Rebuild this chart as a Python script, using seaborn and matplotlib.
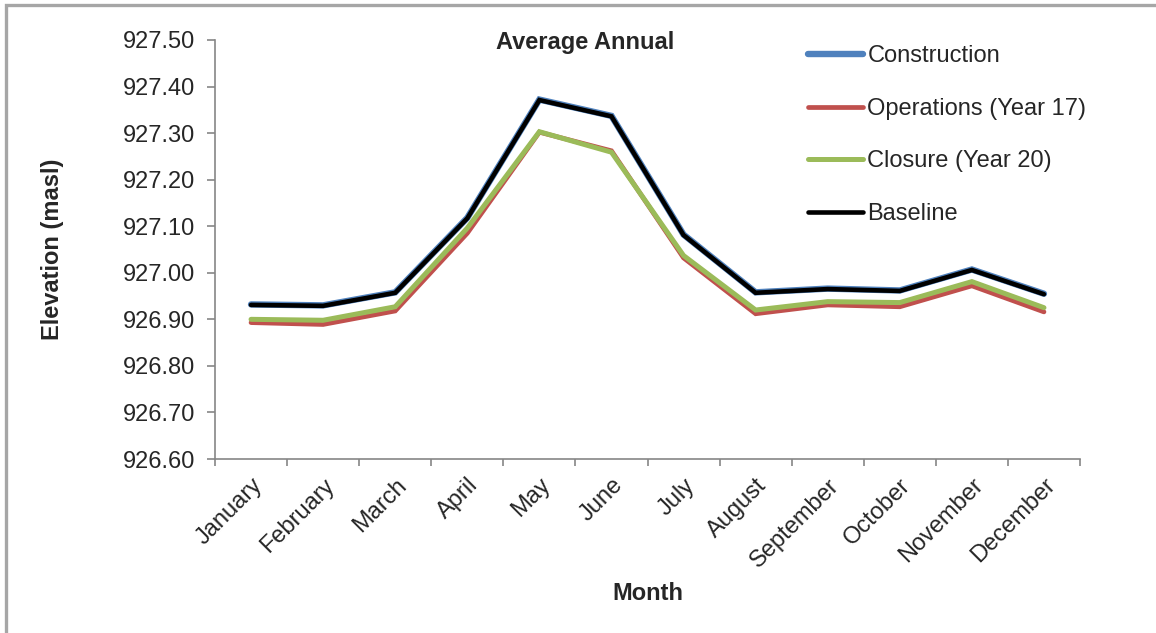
import numpy as np
import pandas as pd
import seaborn as sns
import matplotlib.pyplot as plt
from matplotlib import ticker
from matplotlib.patches import Rectangle

months = ['January', 'February', 'March', 'April', 'May', 'June', 'July',
          'August', 'September', 'October', 'November', 'December']
construction = [926.932, 926.930, 926.958, 927.118, 927.372, 927.337,
                927.082, 926.958, 926.966, 926.962, 927.007, 926.955]
operations = [926.893, 926.889, 926.918, 927.085, 927.302, 927.262,
              927.032, 926.912, 926.931, 926.927, 926.972, 926.916]
closure = [926.900, 926.898, 926.927, 927.096, 927.303, 927.259,
           927.037, 926.920, 926.938, 926.936, 926.981, 926.925]
baseline = [926.931, 926.929, 926.957, 927.117, 927.371, 927.336,
            927.081, 926.957, 926.965, 926.961, 927.006, 926.954]

series = ['Construction', 'Operations (Year 17)', 'Closure (Year 20)', 'Baseline']
colors = ['#4f81bd', '#c0504d', '#9bbb59', '#000000']
widths = [4.6, 3.4, 3.6, 3.3]

df = pd.DataFrame({'month': months * 4,
                   'elev': construction + operations + closure + baseline,
                   'series': np.repeat(series, len(months))})
df['x'] = np.tile(np.arange(len(months)), 4)

sns.set_style('white')
plt.rcParams['font.family'] = ['Liberation Sans', 'DejaVu Sans']
fs = 17

fig = plt.figure(figsize=(11.56, 6.33), dpi=100)
ax = fig.add_axes([215 / 1156, 1 - 459 / 633, 865 / 1156, 419 / 633])
sns.lineplot(data=df, x='x', y='elev', hue='series', hue_order=series,
             palette=colors, sort=False, ax=ax, legend=False)
for line, lw in zip(ax.lines, widths):
    line.set_linewidth(lw)
    line.set_solid_joinstyle('miter')

ax.set_xlim(-0.5, 11.5)
ax.set_ylim(926.60, 927.50)
ax.yaxis.set_major_locator(ticker.MultipleLocator(0.1))
ax.yaxis.set_major_formatter(ticker.FormatStrFormatter('%.2f'))
ax.set_xticks(range(len(months)))
ax.set_xticklabels(months, rotation=45, ha='right', rotation_mode='anchor')
ax.xaxis.set_minor_locator(ticker.FixedLocator(np.arange(-0.5, 12, 1)))
ax.tick_params(axis='x', which='major', length=0, pad=11, labelsize=fs)
ax.tick_params(axis='x', which='minor', length=5, width=1.2, color='#868686', direction='out', bottom=True)
ax.tick_params(axis='y', length=6, width=1.2, color='#868686', direction='out', left=True, labelsize=fs, pad=8)
for side in ['top', 'right']:
    ax.spines[side].set_visible(False)
for side in ['left', 'bottom']:
    ax.spines[side].set_color('#868686')
    ax.spines[side].set_linewidth(1.2)

ax.set_xlabel('Month', fontsize=fs, fontweight='bold')
ax.xaxis.set_label_coords(0.5, -0.294)
ax.set_ylabel('Elevation (masl)', fontsize=fs, fontweight='bold')
ax.yaxis.set_label_coords(-0.175, 0.5)

fig.text(0.506, 1 - 42 / 633, 'Average Annual', ha='center', va='center',
         fontsize=fs, fontweight='bold')

fig.legend(ax.lines, series, loc='upper left', bbox_to_anchor=(799 / 1156, 1 - 36 / 633),
           frameon=False, fontsize=fs, handlelength=2.3, handletextpad=0.2,
           labelspacing=1.29, borderaxespad=0)

fig.patches.append(Rectangle((6 / 1156, -0.1), 1.2, 0.1 + 1 - 5 / 633, fill=False,
                             edgecolor='#a6a6a6', linewidth=2.4,
                             transform=fig.transFigure, clip_on=False))

fig.savefig('out.png', dpi=100)
